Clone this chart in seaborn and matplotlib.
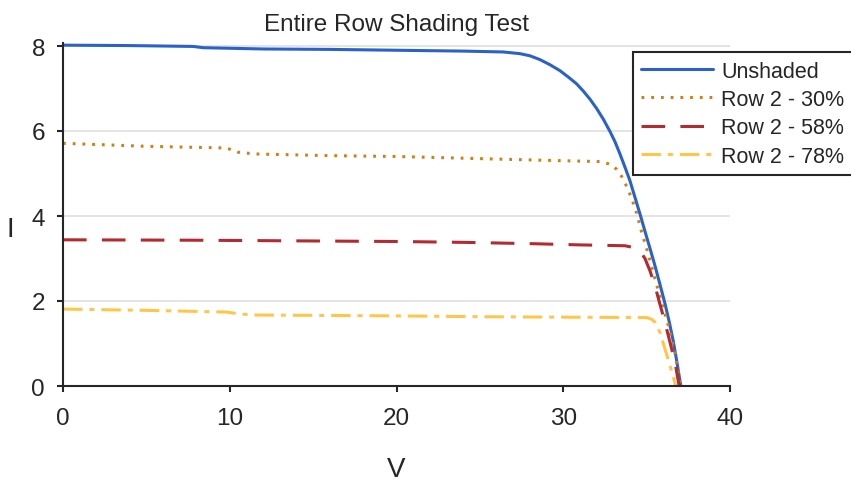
import pandas as pd
import matplotlib
matplotlib.use("Agg")
import matplotlib.pyplot as plt
import seaborn as sns

# I-V curves
v_unshaded = [0, 4, 7.8, 8.4, 12, 16, 20, 24, 26.4, 27.4, 28.0, 28.6, 29.2, 29.8, 30.3, 30.8,
              31.2, 31.6, 32.0, 32.4, 32.8, 33.1, 33.4, 33.7, 34.0, 34.3, 34.6, 34.9, 35.2,
              35.5, 35.8, 36.1, 36.35, 36.6, 36.8, 37.05]
i_unshaded = [8.02, 8.01, 7.99, 7.96, 7.93, 7.92, 7.90, 7.88, 7.86, 7.82, 7.77, 7.68, 7.56,
              7.42, 7.27, 7.11, 6.94, 6.75, 6.53, 6.28, 5.99, 5.75, 5.46, 5.15, 4.83, 4.44,
              4.05, 3.64, 3.24, 2.83, 2.39, 1.94, 1.52, 1.05, 0.60, 0.0]

v_row30 = [0, 5, 9.8, 10.5, 11.5, 16, 20, 23, 27, 30, 32.2, 32.8, 33.2, 33.5, 33.8, 34.1,
           34.4, 34.7, 35.1, 35.5, 35.9, 36.3, 36.7, 37.0]
i_row30 = [5.71, 5.64, 5.60, 5.50, 5.46, 5.42, 5.40, 5.37, 5.33, 5.30, 5.28, 5.22, 5.10, 4.93,
           4.70, 4.42, 4.07, 3.62, 3.10, 2.52, 1.97, 1.42, 0.79, 0.0]

v_row58 = [0, 8, 16, 20, 24, 28, 31, 33.7, 34.2, 34.6, 34.9, 35.2, 35.5, 35.8, 36.1, 36.4,
           36.7, 36.95]
i_row58 = [3.44, 3.43, 3.41, 3.40, 3.38, 3.35, 3.32, 3.30, 3.26, 3.18, 3.00, 2.71, 2.36, 1.92,
           1.50, 1.03, 0.56, 0.0]

v_row78 = [0, 5, 9.8, 10.5, 11.5, 16, 20, 25, 30, 35.0, 35.3, 35.5, 35.8, 36.1, 36.4, 36.75]
i_row78 = [1.81, 1.78, 1.74, 1.70, 1.67, 1.66, 1.65, 1.63, 1.62, 1.61, 1.57, 1.50, 1.26, 0.87,
           0.48, 0.0]

labels = ["Unshaded", "Row 2 - 30%", "Row 2 - 58%", "Row 2 - 78%"]
colors = ["#2a62c9", "#d07f12", "#b32a30", "#ffc64a"]
styles = ["-", (0, (2.0, 5.0)), (0, (17, 11)), (0, (14, 5, 3.6, 5))]

series = [(v_unshaded, i_unshaded), (v_row30, i_row30), (v_row58, i_row58), (v_row78, i_row78)]

sns.set_style("ticks")
plt.rcParams['font.family'] = ['Liberation Sans', 'DejaVu Sans']
plt.rcParams['lines.scale_dashes'] = False

fig = plt.figure(figsize=(8.51, 4.85), dpi=100)
ax = fig.add_axes([63 / 851, 1 - 387 / 485, 667 / 851, 343.4 / 485])

for (v, i), lab, c, ls in zip(series, labels, colors, styles):
    df = pd.DataFrame({'V': v, 'I': i})
    sns.lineplot(data=df, x='V', y='I', ax=ax, color=c, linewidth=2.2, linestyle=ls,
                 label=lab, sort=False, estimator=None)

ax.set_xlim(0, 40)
ax.set_ylim(0, 8.08)
ax.set_xticks([0, 10, 20, 30, 40])
ax.set_yticks([0, 2, 4, 6, 8])
ax.yaxis.grid(True, color='#e2e2e2', linewidth=1.3)
ax.set_axisbelow(True)
sns.despine(ax=ax)
for s in ['left', 'bottom']:
    ax.spines[s].set_linewidth(1.5)
    ax.spines[s].set_color('#262626')
ax.tick_params(axis='both', labelsize=17.5, length=4.3, width=1.5, color='#262626',
               labelcolor='#262626', direction='out')
ax.tick_params(axis='x', pad=10.8)
ax.tick_params(axis='y', pad=8.6)

ax.set_title('Entire Row Shading Test', fontsize=17.5, pad=9)
ax.set_xlabel('V', fontsize=20, va='center')
ax.set_ylabel('I', fontsize=20, rotation=0, va='center', ha='center')
ax.xaxis.set_label_coords(0.5, (387 - 470) / 343.4)
ax.yaxis.set_label_coords((10 - 63) / 667, (387 - 230) / 343.4)

handles, labs = ax.get_legend_handles_labels()
ax.get_legend().remove()
leg = fig.legend(handles, labs, loc='upper right', bbox_to_anchor=(853 / 851, 1 - 53 / 485),
                 fontsize=15.5, frameon=True, fancybox=False, handlelength=3.33,
                 labelspacing=0.34, borderaxespad=0, borderpad=0.4, handletextpad=0.39)
leg.get_frame().set_edgecolor('#262626')
leg.get_frame().set_linewidth(1.5)
leg.get_frame().set_alpha(1)

fig.savefig('out.png', dpi=100)
